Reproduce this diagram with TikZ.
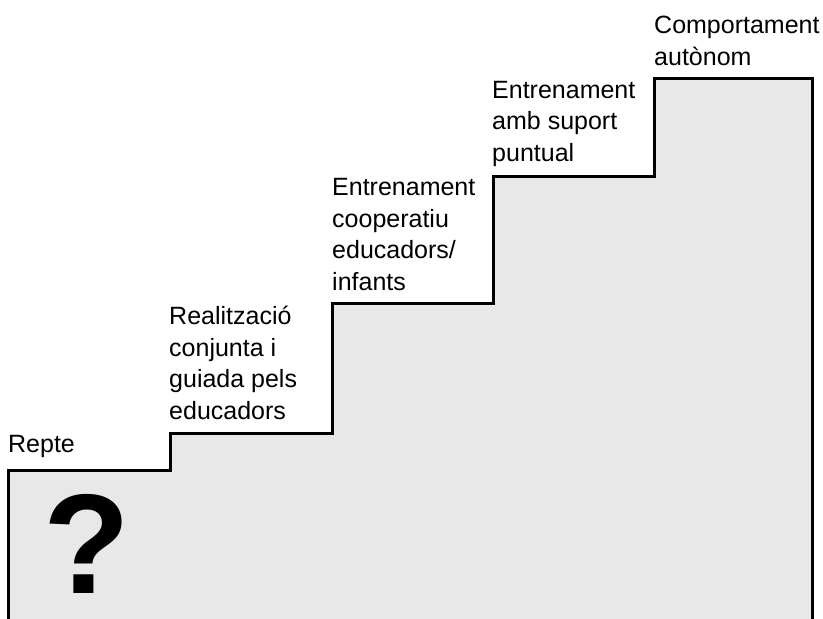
\documentclass[tikz,border=0pt]{standalone}
\usepackage{fontspec}
\setmainfont{Liberation Sans}
\definecolor{stepgray}{HTML}{E8E8E8}
\begin{document}
\begin{tikzpicture}[x=1pt,y=-1pt,
  lbl/.style={anchor=base west,inner sep=0pt,align=left,font=\fontsize{25}{31.5}\selectfont},
  stairline/.style={line width=3pt,line join=miter,black}]
\useasboundingbox (0,0) rectangle (823,619);
\coordinate (b0) at (8,619);
\coordinate (c1) at (8,470);
\coordinate (c2) at (170,470);
\coordinate (c3) at (170,433);
\coordinate (c4) at (332,433);
\coordinate (c5) at (332,303);
\coordinate (c6) at (493,303);
\coordinate (c7) at (493,176);
\coordinate (c8) at (654,176);
\coordinate (c9) at (654,78);
\coordinate (c10) at (812,78);
\coordinate (b1) at (812,619);
\fill[stepgray] (b0) -- (c1) -- (c2) -- (c3) -- (c4) -- (c5) -- (c6) -- (c7) -- (c8) -- (c9) -- (c10) -- (b1) -- cycle;
\draw[stairline] (b0) -- (c1) -- (c2) -- (c3) -- (c4) -- (c5) -- (c6) -- (c7) -- (c8) -- (c9) -- (c10) -- (b1);
\node[lbl] (t1) at (8,452) {Repte};
\node[lbl] (t2) at (169,419) {Realització\\conjunta i\\guiada pels\\educadors};
\node[lbl] (t3) at (332,290) {Entrenament\\cooperatiu\\educadors/\\infants};
\node[lbl] (t4) at (492,161) {Entrenament\\amb suport\\puntual};
\node[lbl] (t5) at (654,65) {Comportament\\autònom};
\node[anchor=base,inner sep=0pt,font=\fontsize{142}{142}\selectfont\bfseries] (q) at (87,593) {?};
\end{tikzpicture}
\end{document}
